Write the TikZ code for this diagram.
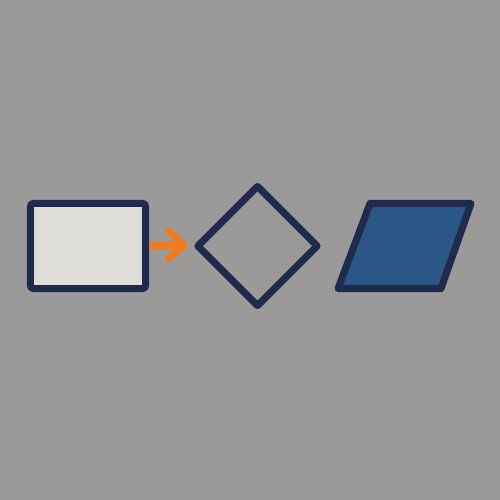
\documentclass[tikz,border=0pt]{standalone}
\usetikzlibrary{shapes.geometric,arrows.meta}
\definecolor{bgc}{HTML}{9B9A98}
\definecolor{navy}{HTML}{1F2A4E}
\definecolor{lightfill}{HTML}{DEDDD9}
\definecolor{bluefill}{HTML}{2B5786}
\definecolor{orangec}{HTML}{F07A20}
\begin{document}
\begin{tikzpicture}[x=0.01cm,y=-0.01cm,
  outline/.style={draw=navy,line width=2pt,line join=round},
  boxshape/.style={outline,rectangle,rounded corners=0.8pt,fill=lightfill,minimum width=1.15cm,minimum height=0.85cm,inner sep=0pt},
  diashape/.style={outline,diamond,minimum width=1.22cm,minimum height=1.22cm,inner sep=0pt},
  flow/.style={draw=orangec,line width=2pt,-{Straight Barb[round,length=4.2pt,width=7.6pt]}}]
\fill[bgc] (0,0) rectangle (500,500);
\node[boxshape] (box) at (88,246) {};
\node[diashape] (dia) at (257.5,246) {};
\coordinate (par) at (405,246);
\draw[outline,fill=bluefill] (370,203.5) -- (471,203.5) -- (441,288.5) -- (338,288.5) -- cycle;
\draw[flow] (box.east) ++(0,-1) coordinate (s) (s) -- ([xshift=-1.6pt]dia.west|-s);
\end{tikzpicture}
\end{document}
